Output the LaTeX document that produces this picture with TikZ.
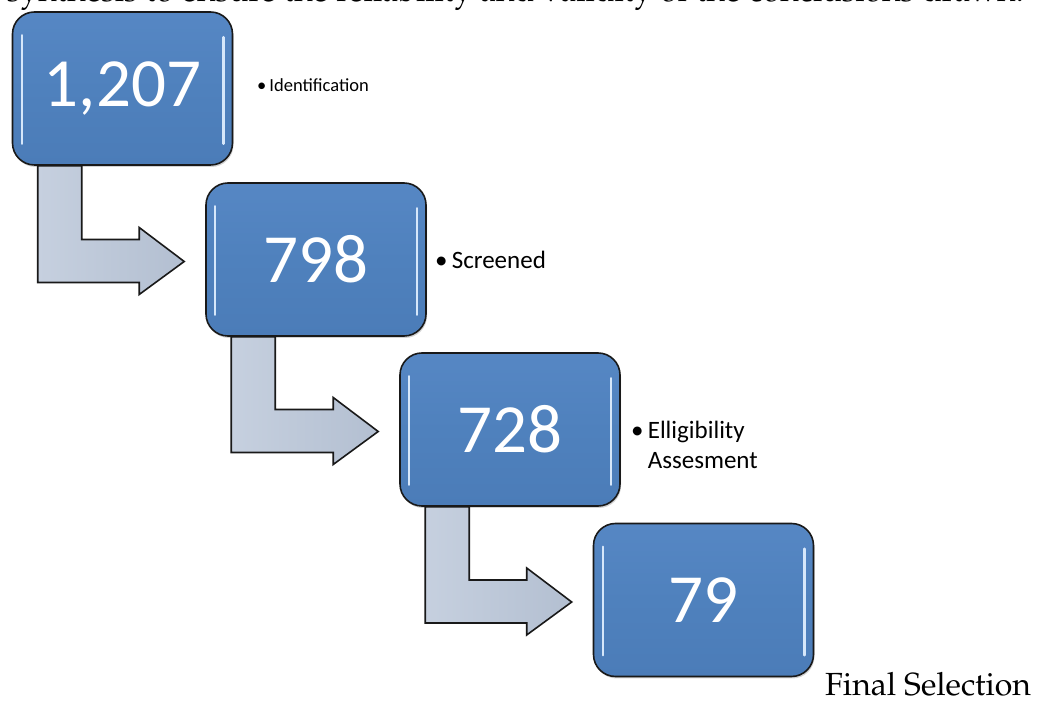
\documentclass[tikz,border=0pt]{standalone}
\usepackage{fontspec}
\newfontfamily\calib{Carlito}
\newcommand\palfont{\fontencoding{OT1}\fontfamily{ppl}\selectfont}
\usetikzlibrary{calc,shadows}
\definecolor{boxblue}{HTML}{4F81BD}
\definecolor{boxtop}{HTML}{5687C4}
\definecolor{boxbot}{HTML}{4B7CB8}
\definecolor{hlcol}{HTML}{D6E7FA}
\definecolor{arrtop}{HTML}{C6D0DF}
\definecolor{arrbot}{HTML}{B3BFD1}
\newcommand\flowarrow[2]{%
  \path[bentarrow] let \p1=(#1.south west), \p3=($(#2.west)+(-21pt,-2pt)$) in
    (\x1+26pt,\y1) -- (\x1+70pt,\y1) -- (\x1+70pt,\y3+22pt) -- (\x3-45pt,\y3+22pt)
    -- (\x3-45pt,\y3+34pt) -- (\x3,\y3) -- (\x3-45pt,\y3-33pt) -- (\x3-45pt,\y3-21pt)
    -- (\x1+26pt,\y3-21pt) -- cycle;}
\newcommand\gloss[1]{%
  \draw[hl] ($(#1.north west)+(10pt,-24pt)$) -- ($(#1.south west)+(10pt,22pt)$);
  \draw[hl] ($(#1.north east)+(-10pt,-26pt)$) -- ($(#1.south east)+(-10pt,22pt)$);}
\begin{document}
\begin{tikzpicture}[x=1pt,y=1pt,
  numbox/.style={draw=black!90, line width=1.6pt, rounded corners=22pt,
    minimum width=220pt, minimum height=153pt, inner sep=0pt,
    top color=boxtop, bottom color=boxbot, middle color=boxblue,
    text=white, font=\calib\fontsize{69}{69}\selectfont,
    drop shadow={opacity=0.35, shadow xshift=1pt, shadow yshift=-2pt}},
  bentarrow/.style={draw=black!90, line width=1.6pt, line join=miter,
    left color=arrtop, right color=arrbot},
  hl/.style={draw=hlcol, line width=2.4pt, line cap=round},
  steplabel/.style={anchor=base west, inner sep=0pt, font=\calib}]
\useasboundingbox (0,0) rectangle (1037,702);
\clip (0,0) rectangle (1037,702);
% clipped running text at the top
\node[anchor=base east, inner sep=0pt, font=\palfont\fontsize{32}{32}\selectfont] (toptext) at (1024,700.5)
  {synthesis to ensure the reliability and validity of the conclusions drawn.};
% boxes
\node[numbox] (b1) at (122.5,613.5) {1,207};
\node[numbox] (b2) at (316,442.5) {798};
\node[numbox] (b3) at (510,272.5) {728};
\node[numbox] (b4) at (703.5,102) {79};
% arrows
\flowarrow{b1}{b2}
\flowarrow{b2}{b3}
\flowarrow{b3}{b4}
% highlights
\gloss{b1}\gloss{b2}\gloss{b3}\gloss{b4}
% labels
\node[steplabel, font=\calib\fontsize{18.5}{22}\selectfont] (l1) at (257,610) {\textbullet\,Identification};
\node[steplabel, font=\calib\fontsize{25}{30}\selectfont] (l2) at (435,433) {\textbullet\,Screened};
\node[steplabel, font=\calib\fontsize{25}{30}\selectfont] (l3) at (631,263)
  {\textbullet\,\begin{tabular}[t]{@{}l@{}}Elligibility\\Assesment\end{tabular}};
\node[anchor=base west, inner sep=0pt, font=\palfont\fontsize{32}{32}\selectfont] (l4) at (825,6) {Final Selection};
\end{tikzpicture}
\end{document}
